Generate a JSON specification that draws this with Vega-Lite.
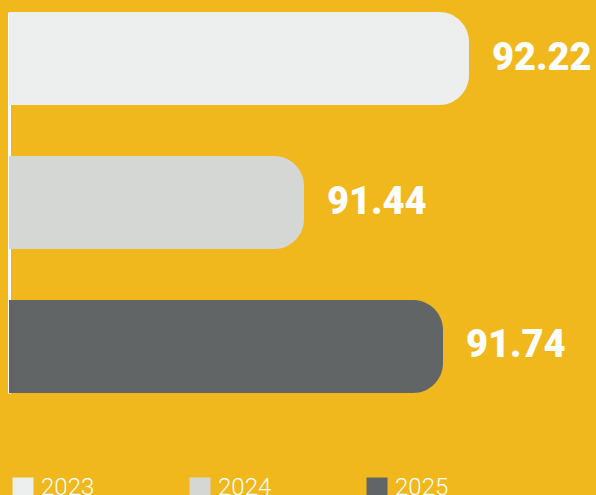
{
  "$schema": "https://vega.github.io/schema/vega-lite/v6.json",
  "width": 587,
  "height": 381,
  "autosize": "none",
  "padding": {"left": 9, "top": 12, "right": 0, "bottom": 102},
  "background": "#F0B81C",
  "view": {"stroke": null},
  "data": {"values": [
    {"year": "2023", "value": 92.22},
    {"year": "2024", "value": 91.44},
    {"year": "2025", "value": 91.74}
  ]},
  "encoding": {
    "y": {
      "field": "year", "type": "nominal", "sort": null,
      "scale": {"paddingInner": 0.354, "paddingOuter": 0},
      "axis": {"title": null, "labels": false, "ticks": false, "domain": true, "domainColor": "#FFFFFF", "domainWidth": 3, "grid": false}
    },
    "x": {
      "field": "value", "type": "quantitative",
      "scale": {"domain": [91, 91.44, 91.74, 92.22], "range": [0, 295, 434, 460], "zero": false, "clamp": true},
      "axis": null
    }
  },
  "layer": [
    {
      "mark": {"type": "bar", "cornerRadiusEnd": 30},
      "encoding": {
        "color": {
          "field": "year", "type": "nominal",
          "scale": {"range": ["#EDEFEE", "#D5D7D4", "#616565"]},
          "legend": {
            "orient": "none", "legendX": 2, "legendY": 464,
            "direction": "horizontal", "title": null,
            "symbolType": "square", "symbolSize": 441, "symbolStrokeWidth": 0, "symbolOpacity": 1,
            "labelFont": "Roboto", "labelFontSize": 24, "labelFontWeight": 300, "labelColor": "#FFFFFF",
            "labelOffset": 6, "columnPadding": 93, "padding": 0
          }
        }
      }
    },
    {
      "mark": {"type": "text", "align": "left", "baseline": "middle", "dx": 23, "font": "Roboto", "fontSize": 38, "fontWeight": 900, "fill": "#FFFFFF"},
      "encoding": {"text": {"field": "value", "type": "quantitative", "format": ".2f"}}
    }
  ]
}
